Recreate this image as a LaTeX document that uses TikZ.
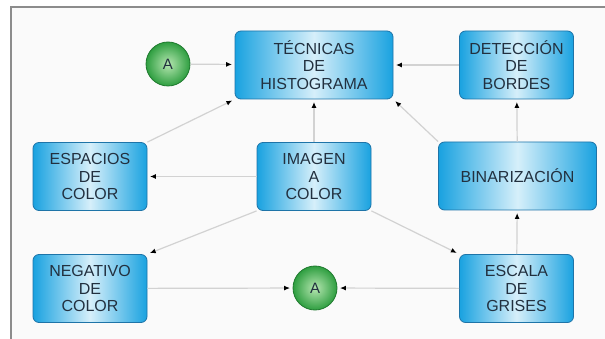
\documentclass[tikz,border=0pt]{standalone}
\usepackage{fontspec}
\setmainfont{Liberation Sans}
\usetikzlibrary{arrows.meta}

\definecolor{boxblue}{HTML}{19A2E0}
\definecolor{boxlight}{HTML}{D6EFFA}
\definecolor{boxline}{HTML}{1E74A8}
\definecolor{ballgreen}{HTML}{2E9E40}
\definecolor{balllight}{HTML}{B5E6B0}
\definecolor{ballline}{HTML}{1F7A2E}
\definecolor{txt}{HTML}{22303F}
\definecolor{link}{HTML}{D2D2D2}
\definecolor{frame}{HTML}{8C8C8C}

\tikzset{
  box/.style={rounded corners=6pt, draw=boxline, line width=0.8pt,
    left color=boxblue, right color=boxblue, middle color=boxlight,
    align=center, text=txt, minimum width=114pt, minimum height=68pt,
    font=\fontsize{16}{17.5}\selectfont, inner sep=1pt},
  widebox/.style={box, minimum width=158pt},
  ball/.style={circle, draw=ballline, line width=0.8pt, inner color=balllight,
    outer color=ballgreen, minimum size=44pt, text=txt,
    font=\fontsize{15}{17.5}\selectfont},
  link/.style={draw=link, line width=1.2pt, shorten >=2.5pt,
    -{Latex[color=black,length=6pt,width=5pt]}}
}

\begin{document}
\begin{tikzpicture}[x=1pt,y=-1pt]

        \useasboundingbox (0,0) rectangle (605,339);
        \fill[white] (0,0) rectangle (605,339);
        \fill[black!2] (11,7) rectangle (605,339);
        \draw[frame, line width=1.5pt] (11,339) -- (11,7) -- (605,7);

        \node[widebox] (tecnicas) at (314,65) {TÉCNICAS\\DE\\HISTOGRAMA};
        \node[box] (deteccion) at (516.5,65) {DETECCIÓN\\DE\\BORDES};
        \node[ball] (a1) at (168,64) {A};

        \node[box] (espacios) at (90,176.5) {ESPACIOS\\DE\\COLOR};
        \node[box] (imagen) at (314,176.5) {IMAGEN\\A\\COLOR};
        \node[widebox] (binarizacion) at (517.5,176) {BINARIZACIÓN};

        \node[box] (negativo) at (90,288.5) {NEGATIVO\\DE\\COLOR};
        \node[ball] (a2) at (315,288) {A};
        \node[box] (escala) at (516.5,288.5) {ESCALA\\DE\\GRISES};

        \draw[link] (a1) -- (tecnicas);
        \draw[link] (deteccion) -- (tecnicas);
        \draw[link] (espacios.north east) -- (tecnicas.south west);
        \draw[link] (imagen) -- (tecnicas);
        \draw[link] (binarizacion.north west) -- (tecnicas.south east);
        \draw[link] (binarizacion) -- (deteccion);

        \draw[link] (imagen) -- (espacios);
        \draw[link] (imagen.south west) -- (negativo.north east);
        \draw[link] (imagen.south east) -- (escala.north west);
        \draw[link] (escala) -- (binarizacion);

        \draw[link] (negativo) -- (a2);
        \draw[link] (escala) -- (a2);

    \end{tikzpicture}
\end{document}
